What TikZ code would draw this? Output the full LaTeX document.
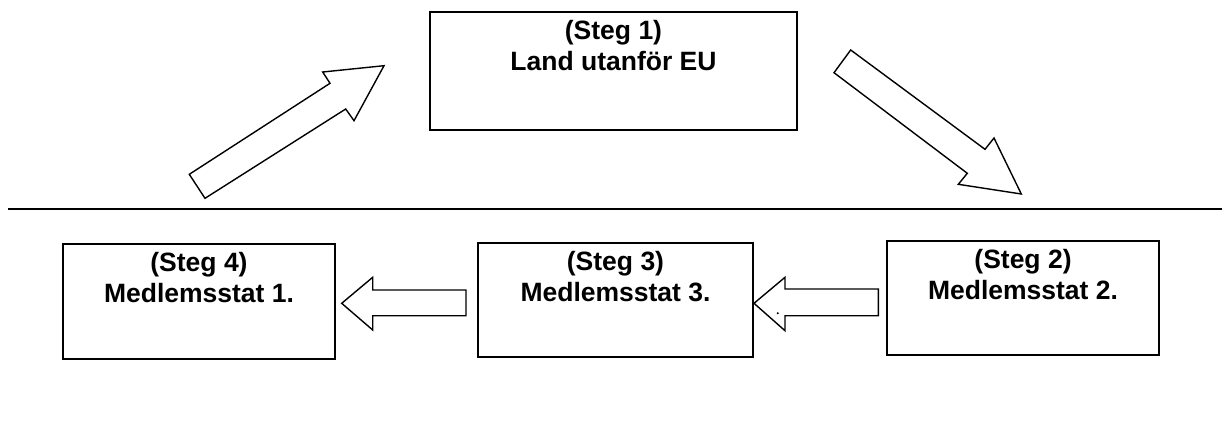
\documentclass[tikz,border=0pt]{standalone}
\usepackage{fontspec}
\setmainfont{Liberation Sans}
\usetikzlibrary{calc}

\tikzset{
  stepbox/.style={draw=black, line width=1.7pt, minimum width=#1, inner sep=0pt},
  steptext/.style={anchor=base, inner sep=0pt, font=\fontsize{26.5}{32}\selectfont\bfseries},
  blockarrow/.style={draw=black, fill=white, line width=1.4pt, line join=miter},
  divider/.style={draw=black, line width=1.8pt}
}

\begin{document}
\begin{tikzpicture}[x=1pt, y=-1pt]
  \useasboundingbox (0,0) rectangle (1230,424);

  % Step boxes
  \node[stepbox=367pt, minimum height=118pt] (b1) at (613.5,71) {};
  \node[stepbox=272pt, minimum height=114pt] (b2) at (1023,298) {};
  \node[stepbox=275pt, minimum height=114pt] (b3) at (615.5,300) {};
  \node[stepbox=272pt, minimum height=115pt] (b4) at (199,301.5) {};

  % Box texts
  \node[steptext] (b1a) at ($(b1.north)+(0,28)$) {(Steg 1)};
  \node[steptext] (b1b) at ($(b1.north)+(0,59)$) {Land utanför EU};
  \node[steptext] (b2a) at ($(b2.north)+(0,28)$) {(Steg 2)};
  \node[steptext] (b2b) at ($(b2.north)+(0,59)$) {Medlemsstat 2.};
  \node[steptext] (b3a) at ($(b3.north)+(0,28)$) {(Steg 3)};
  \node[steptext] (b3b) at ($(b3.north)+(0,59)$) {Medlemsstat 3.};
  \node[steptext] (b4a) at ($(b4.north)+(0,28)$) {(Steg 4)};
  \node[steptext] (b4b) at ($(b4.north)+(0,59)$) {Medlemsstat 1.};

  % Divider line
  \coordinate (dl) at (8,209.3);
  \coordinate (dr) at (1222,209.3);
  \draw[divider] (dl) -- (dr);

  % Block arrow: up towards step 1
  \draw[blockarrow] (189.3,174.3) -- (330,83.3) -- (322.7,72) -- (384,65.7)
    -- (354,120.7) -- (345.7,109) -- (205,198.3) -- cycle;

  % Block arrow: down towards step 2
  \draw[blockarrow] (850.7,50) -- (985,149.3) -- (994,138) -- (1021.3,194)
    -- (958.3,184.3) -- (967.3,173.3) -- (834,72.7) -- cycle;

  % Block arrow: step 2 to step 3
  \draw[blockarrow] (754,303.3) -- (785,277.3) -- (785,289) -- (878.3,289)
    -- (878.3,315.7) -- (785,315.7) -- (785,330.7) -- cycle;
  \fill (777.7,313.3) circle (1.1);

  % Block arrow: step 3 to step 4
  \draw[blockarrow] (341.7,303.3) -- (372.7,277.3) -- (372.7,290) -- (466,290)
    -- (466,315.7) -- (372.7,315.7) -- (372.7,330) -- cycle;
\end{tikzpicture}
\end{document}
